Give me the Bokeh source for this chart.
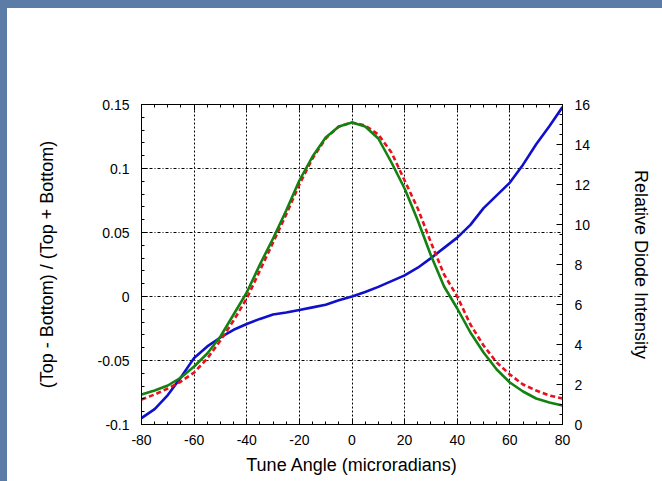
from bokeh.plotting import figure
from bokeh.models import (Range1d, LinearAxis, FixedTicker, SingleIntervalTicker,
                          CustomJSTickFormatter, Grid, Div)
from bokeh.layouts import column, row
from bokeh.embed import file_html
from bokeh.resources import INLINE

# ---- data ----
tune_angle = [-80, -75, -70, -65, -60, -55, -50, -45, -40, -35, -30, -25, -20, -15, -10, -5,
              0, 5, 10, 15, 20, 25, 30, 35, 40, 45, 50, 55, 60, 65, 70, 75, 80]
asymmetry = [-0.095, -0.088, -0.077, -0.063, -0.048, -0.039, -0.032, -0.026, -0.0215, -0.0175,
             -0.014, -0.0125, -0.0105, -0.0085, -0.0065, -0.003,
             0.0, 0.0035, 0.0075, 0.012, 0.0165, 0.0225, 0.030, 0.038, 0.046, 0.056,
             0.069, 0.079, 0.089, 0.103, 0.119, 0.133, 0.148]
intensity_measured = [1.5, 1.7, 1.95, 2.35, 2.9, 3.55, 4.4, 5.5, 6.6, 8.0, 9.3, 10.7, 12.2, 13.4,
                      14.35, 14.9, 15.1, 14.9, 14.3, 13.1, 11.8, 10.2, 8.45, 6.9, 5.8, 4.6,
                      3.6, 2.75, 2.1, 1.65, 1.3, 1.1, 0.95]
intensity_fit = [1.25, 1.5, 1.8, 2.15, 2.6, 3.3, 4.2, 5.2, 6.3, 7.7, 9.1, 10.5, 12.0, 13.3,
                 14.3, 14.9, 15.1, 14.95, 14.5, 13.6, 12.2, 10.8, 9.1, 7.5, 6.4, 5.0,
                 3.95, 3.1, 2.5, 2.0, 1.7, 1.45, 1.3]

left_ticks = [-0.1, -0.05, 0.0, 0.05, 0.1, 0.15]
left_tick_labels = ["-0.1", "-0.05", "0", "0.05", "0.1", "0.15"]

FONT = "Liberation Sans"
BLUE = "#1010cc"
GREEN = "#138213"
RED = "#e8101a"
SLIDE = "#5b7ca6"

p = figure(width=655, height=473, output_backend="svg", toolbar_location=None,
           x_range=Range1d(-80, 80), y_range=Range1d(-0.1, 0.15),
           x_axis_location=None, y_axis_location=None,
           min_border_left=134, min_border_right=100, min_border_top=96,
           min_border_bottom=57, margin=0,
           background_fill_color="white", border_fill_color="white")
p.extra_y_ranges = {"right": Range1d(0, 16)}
p.outline_line_color = "black"
p.outline_line_width = 1
p.grid.visible = False

x_ticker = SingleIntervalTicker(interval=20, num_minor_ticks=4)
left_ticker = FixedTicker(ticks=left_ticks,
                          minor_ticks=[round(-0.1 + 0.01 * i, 2) for i in range(26)])
right_ticker = SingleIntervalTicker(interval=2, num_minor_ticks=4)

left_fmt = CustomJSTickFormatter(args=dict(tvals=left_ticks, tlabels=left_tick_labels), code="""
for (let i = 0; i < tvals.length; i++) { if (Math.abs(tvals[i] - tick) < 1e-9) return tlabels[i]; }
return '';
""")
int_fmt = CustomJSTickFormatter(code="return Math.round(tick).toFixed(0);")


def style(ax):
    ax.axis_line_color = "black"
    ax.major_tick_line_color = "black"
    ax.minor_tick_line_color = "black"
    ax.major_tick_in = 6
    ax.major_tick_out = 0
    ax.minor_tick_in = 3
    ax.minor_tick_out = 0
    ax.major_label_text_font = FONT
    ax.major_label_text_font_size = "14px"
    ax.major_label_text_color = "black"
    ax.axis_label_text_font = FONT
    ax.axis_label_text_font_size = "18px"
    ax.axis_label_text_font_style = "normal"
    ax.axis_label_text_color = "black"
    return ax


xb = style(LinearAxis(ticker=x_ticker, formatter=int_fmt, axis_label="Tune Angle (microradians)",
                      major_label_standoff=10, axis_label_standoff=7))
p.add_layout(xb, "below")
xa = style(LinearAxis(ticker=x_ticker, formatter=CustomJSTickFormatter(code="return '';")))
p.add_layout(xa, "above")
yl = style(LinearAxis(ticker=left_ticker, formatter=left_fmt,
                      axis_label="(Top - Bottom) / (Top + Bottom)",
                      major_label_standoff=12, axis_label_standoff=38))
p.add_layout(yl, "left")
yr = style(LinearAxis(y_range_name="right", ticker=right_ticker, formatter=int_fmt,
                      axis_label="Relative Diode Intensity",
                      major_label_standoff=12, axis_label_standoff=38))
p.add_layout(yr, "right")

p.add_layout(Grid(dimension=0, ticker=x_ticker, grid_line_color="black",
                  grid_line_dash="2 2", grid_line_width=1))
p.add_layout(Grid(dimension=1, ticker=left_ticker, grid_line_color="black",
                  grid_line_dash="3 2 1 2", grid_line_width=1))

p.line(tune_angle, asymmetry, color=BLUE, line_width=2.6)
p.line(tune_angle, intensity_fit, y_range_name="right", color=RED, line_width=2.6,
       line_dash="5 3")
p.line(tune_angle, intensity_measured, y_range_name="right", color=GREEN, line_width=2.6)

top_band = Div(text="", width=662, height=8, margin=0,
               styles={"background-color": SLIDE})
left_band = Div(text="", width=7, height=473, margin=0,
                styles={"background-color": SLIDE})
layout = column(top_band, row(left_band, p, spacing=0, margin=0), spacing=0, margin=0)

html = file_html(layout, INLINE)
html = html.replace("</head>", "<style>html, body { margin: 0; padding: 0; background: white; }</style></head>", 1)
open("out.html", "w").write(html)
